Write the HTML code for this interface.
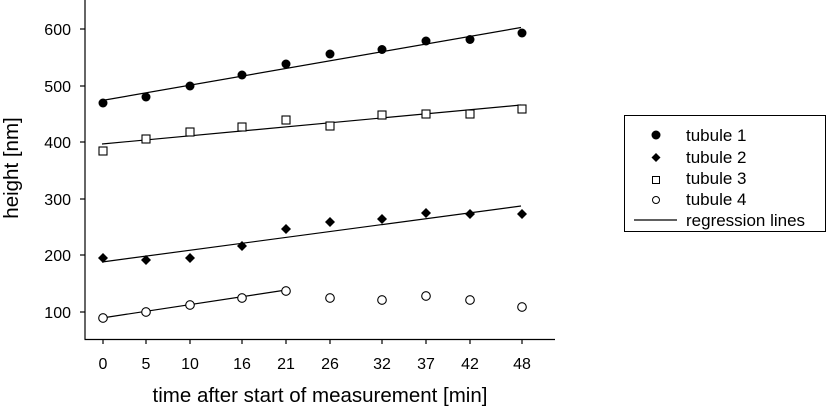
<!DOCTYPE html>
<html><head><style>body{margin:0;background:#fff}svg{display:block}text{font-family:"Liberation Sans",Arial,sans-serif;fill:#000}</style></head>
<body>
<svg width="827" height="411" viewBox="0 0 827 411" xmlns="http://www.w3.org/2000/svg">
<g stroke="#000" stroke-width="1.2" fill="none">
<line x1="85" y1="0" x2="85" y2="339.5"/>
<line x1="84.5" y1="339.5" x2="555" y2="339.5"/>
<line x1="80" y1="29" x2="85" y2="29"/><line x1="80" y1="86" x2="85" y2="86"/><line x1="80" y1="142" x2="85" y2="142"/><line x1="80" y1="199" x2="85" y2="199"/><line x1="80" y1="255" x2="85" y2="255"/><line x1="80" y1="312" x2="85" y2="312"/>
<line x1="103" y1="339" x2="103" y2="344"/><line x1="146" y1="339" x2="146" y2="344"/><line x1="190" y1="339" x2="190" y2="344"/><line x1="242" y1="339" x2="242" y2="344"/><line x1="286" y1="339" x2="286" y2="344"/><line x1="330" y1="339" x2="330" y2="344"/><line x1="382" y1="339" x2="382" y2="344"/><line x1="426" y1="339" x2="426" y2="344"/><line x1="470" y1="339" x2="470" y2="344"/><line x1="522" y1="339" x2="522" y2="344"/>
<line x1="102" y1="100.5" x2="521" y2="27.5"/>
<line x1="102" y1="144" x2="521" y2="105"/>
<line x1="102" y1="262" x2="521" y2="206"/>
<line x1="102" y1="318" x2="286" y2="290"/>
</g>
<g font-size="16" text-anchor="end">
<text x="71" y="35">600</text><text x="71" y="92">500</text><text x="71" y="148">400</text><text x="71" y="205">300</text><text x="71" y="261">200</text><text x="71" y="318">100</text>
</g>
<g font-size="16" text-anchor="middle">
<text x="103" y="369">0</text><text x="146" y="369">5</text><text x="190" y="369">10</text><text x="242" y="369">16</text><text x="286" y="369">21</text><text x="330" y="369">26</text><text x="382" y="369">32</text><text x="426" y="369">37</text><text x="470" y="369">42</text><text x="522" y="369">48</text>
<text x="320" y="402" font-size="20.5">time after start of measurement [min]</text>
<text transform="translate(18,168) rotate(-90)" font-size="20.5">height [nm]</text>
</g>
<g fill="#000">
<circle cx="103" cy="103" r="4.5"/><circle cx="146" cy="97" r="4.5"/><circle cx="190" cy="86" r="4.5"/><circle cx="242" cy="75" r="4.5"/><circle cx="286" cy="64" r="4.5"/><circle cx="330" cy="54" r="4.5"/><circle cx="382" cy="49.5" r="4.5"/><circle cx="426" cy="41" r="4.5"/><circle cx="470" cy="39.5" r="4.5"/><circle cx="522" cy="33" r="4.5"/>
</g>
<g fill="#000">
<path d="M103 253l5 5-5 5-5-5z"/><path d="M146 255l5 5-5 5-5-5z"/><path d="M190 253l5 5-5 5-5-5z"/><path d="M242 241l5 5-5 5-5-5z"/><path d="M286 224l5 5-5 5-5-5z"/><path d="M330 217l5 5-5 5-5-5z"/><path d="M382 214l5 5-5 5-5-5z"/><path d="M426 208l5 5-5 5-5-5z"/><path d="M470 209l5 5-5 5-5-5z"/><path d="M522 209l5 5-5 5-5-5z"/>
</g>
<g fill="#fff" stroke="#000" stroke-width="1.1">
<rect x="99" y="147" width="8" height="8"/><rect x="142" y="135" width="8" height="8"/><rect x="186" y="128" width="8" height="8"/><rect x="238" y="123" width="8" height="8"/><rect x="282" y="116" width="8" height="8"/><rect x="326" y="122" width="8" height="8"/><rect x="378" y="111" width="8" height="8"/><rect x="422" y="110" width="8" height="8"/><rect x="466" y="110" width="8" height="8"/><rect x="518" y="105" width="8" height="8"/>
<circle cx="103" cy="318" r="4.3"/><circle cx="146" cy="312" r="4.3"/><circle cx="190" cy="305" r="4.3"/><circle cx="242" cy="298" r="4.3"/><circle cx="286" cy="291" r="4.3"/><circle cx="330" cy="298" r="4.3"/><circle cx="382" cy="300" r="4.3"/><circle cx="426" cy="296" r="4.3"/><circle cx="470" cy="300" r="4.3"/><circle cx="522" cy="307" r="4.3"/>
</g>
<rect x="624.5" y="115.5" width="201" height="116" fill="none" stroke="#000" stroke-width="1"/>
<circle cx="656" cy="135" r="4.5" fill="#000"/>
<path d="M656 153l4.5 4.5-4.5 4.5-4.5-4.5z" fill="#000"/>
<rect x="652.5" y="176.5" width="7" height="7" fill="#fff" stroke="#000"/>
<circle cx="656" cy="200" r="3.5" fill="#fff" stroke="#000"/>
<line x1="634" y1="220" x2="677" y2="220" stroke="#000" stroke-width="1.2"/>
<g font-size="17">
<text x="686" y="141">tubule 1</text><text x="686" y="163">tubule 2</text><text x="686" y="184">tubule 3</text><text x="686" y="205">tubule 4</text><text x="686" y="226">regression lines</text>
</g>
</svg>
</body></html>
